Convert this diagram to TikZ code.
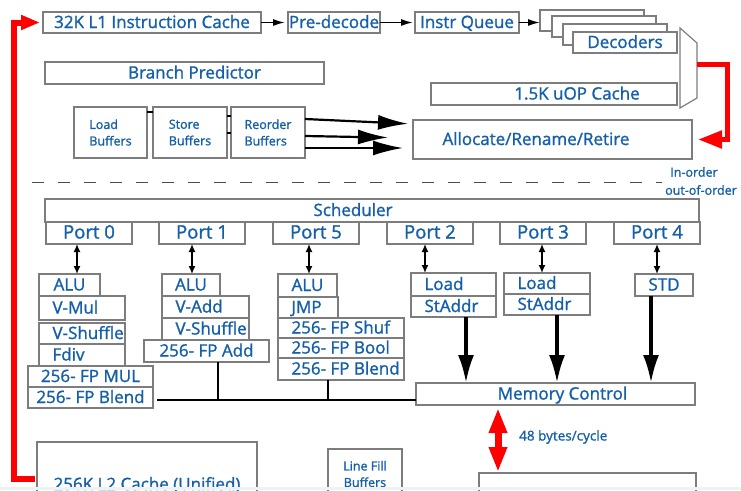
\documentclass[tikz,border=0pt]{standalone}
\usepackage{fontspec}
\newfontfamily\clearfont[FakeBold=1.2]{Open Sans}
\usetikzlibrary{arrows.meta}
\definecolor{intelblue}{RGB}{20,95,170}
\definecolor{boxgray}{RGB}{125,125,125}
\definecolor{stripgray}{RGB}{241,241,241}
\newcommand{\unitlabel}[2]{\makebox[#1pt][l]{\hspace{13.5pt}#2}}
\tikzset{
box/.style={draw=boxgray, line width=1.2pt, fill=white, text=intelblue, font=\clearfont\fontsize{17}{17}\selectfont, inner sep=0pt, outer sep=0pt, anchor=north west},
cell/.style={box, text height=12pt, text depth=1pt},
sz/.style 2 args={minimum width=#1pt, minimum height=#2pt},
small/.style={font=\clearfont\fontsize{12.5}{16.5}\selectfont},
portf/.style={font=\clearfont\fontsize{18.5}{18.5}\selectfont},
flow/.style={-{Latex[length=12pt,width=7pt]}, line width=1.5pt},
dbl/.style={{Latex[length=8pt,width=7pt]}-{Latex[length=8pt,width=7pt]}, line width=1.5pt},
down/.style={-{Latex[length=28pt,width=16pt]}, line width=3.5pt},
big/.style={-{Latex[length=30pt,width=15pt]}, line width=2.2pt},
bus/.style={line width=2.8pt},
redline/.style={draw=red, line width=6pt, line join=miter}
}
\begin{document}
\begin{tikzpicture}[x=1pt,y=-1pt]
\path[use as bounding box, clip] (0,0) rectangle (741,490);
\node[cell, sz={218}{21}] (l1) at (43,12) {32K L1 Instruction Cache};
\node[cell, sz={92}{21}] (predec) at (288,12) {Pre-decode};
\node[cell, sz={104}{21}] (iq) at (415,12) {Instr Queue};
\foreach \i/\x/\y in {1/540/10,2/552/16,3/563/24}
\node[box, sz={104}{21}] (dec\i) at (\x,\y) {};
\node[cell, sz={104}{21}] (dec4) at (573,32) {Decoders};
\node[cell, sz={279}{22}] (bp) at (45,62) {\hspace*{20pt}Branch Predictor};
\node[cell, sz={246}{22}] (uop) at (431,83) {\hspace*{46pt}1.5K uOP Cache};
\node[cell, sz={279}{39}] (alloc) at (413,120) {Allocate/Rename/Retire\hspace*{33pt}};
\draw[boxgray, line width=1.2pt] (680,28) -- (697,43) -- (697,98) -- (680,108) -- cycle;
\coordinate (muxout) at (697,64.5);
\node[box, small, align=left, sz={73}{51}] (lbuf) at (74,107) {Load\\Buffers};
\node[box, small, align=left, sz={74}{51}] (sbuf) at (153,107) {Store\\Buffers};
\node[box, small, align=left, sz={74}{51}] (rbuf) at (231,107) {Reorder\\Buffers};
\draw[flow, shorten >=3pt] (l1) -- (predec);
\draw[flow, shorten >=2pt] (predec) -- (iq);
\draw[flow] (iq.east) -- (iq.east -| dec1.west);
\draw[line width=1.5pt] (lbuf.east |- 0,112) -- (sbuf.west |- 0,112);
\draw[line width=1.5pt] (sbuf.east |- 0,116) -- (rbuf.west |- 0,116);
\draw[line width=1.5pt] (sbuf.east |- 0,133) -- (rbuf.west |- 0,133);
\draw[big, shorten >=5pt] (rbuf.east |- 0,119) -- (alloc.west |- 0,124);
\draw[big, shorten >=25pt] (rbuf.east |- 0,136) -- (alloc.west |- 0,138);
\draw[big, shorten >=10pt] (rbuf.east |- 0,148) -- (alloc.west |- 0,148);
\draw[redline, line width=5pt, -{Triangle[length=24pt,width=17pt]}, shorten >=6pt] (muxout) -- (muxout -| 727,0) |- (alloc.east);
\node[small, text=intelblue] (inord) at (694,172) {In-order};
\node[small, text=intelblue] (outord) at (701,190) {out-of-order};
\draw[boxgray!60!black, line width=1pt, dash pattern=on 12pt off 14pt] (32,182) -- (662,182);
\node[cell, sz={654}{23}] (sched) at (45,199) {Scheduler\hspace*{38pt}};
\foreach \n/\x in {0/46,1/159,5/273,2/387,3/500,4/614}
\node[cell, portf, sz={86}{22}] (port\n) at (\x,222) {Port \n};
\node[cell, sz={61}{22}] (alu0) at (39,274) {ALU};
\node[cell, sz={86}{24}] (vmul) at (39,296) {\unitlabel{86}{V-Mul}};
\node[cell, sz={86}{21}] (vshuf0) at (39,323) {\unitlabel{86}{V-Shuffle}};
\node[cell, sz={86}{22}] (fdiv) at (39,344) {\unitlabel{86}{Fdiv}};
\node[cell, sz={125}{21}] (fpmul) at (28,366) {256- FP MUL};
\node[cell, sz={125}{21}] (fpblend0) at (28,387) {256- FP Blend};
\node[cell, sz={58}{22}] (alu1) at (162,274) {ALU};
\node[cell, sz={87}{22}] (vadd) at (162,296) {\unitlabel{87}{V-Add}};
\node[cell, sz={87}{22}] (vshuf1) at (162,318) {\unitlabel{87}{V-Shuffle}};
\node[cell, sz={125}{22}] (fpadd) at (144,340) {256- FP Add};
\node[cell, sz={59}{23}] (alu5) at (278,274) {ALU};
\node[cell, sz={60}{21}] (jmp) at (278,297) {\unitlabel{60}{JMP}};
\node[cell, sz={126}{20}] (fpshuf) at (278,318) {\unitlabel{126}{256- FP Shuf}};
\node[cell, sz={126}{20}] (fpbool) at (278,338) {\unitlabel{126}{256- FP Bool}};
\node[cell, sz={126}{22}] (fpblend5) at (278,358) {\unitlabel{126}{256- FP Blend}};
\node[cell, sz={85}{23}] (load2) at (411,273) {\unitlabel{85}{Load}};
\node[cell, sz={85}{21}] (staddr2) at (411,296) {\unitlabel{85}{StAddr}};
\node[cell, sz={86}{21}] (load3) at (504,273) {\unitlabel{86}{Load}};
\node[cell, sz={86}{21}] (staddr3) at (504,294) {\unitlabel{86}{StAddr}};
\node[cell, sz={58}{22}] (std) at (635,274) {STD};
\node[cell, sz={279}{22}] (memctl) at (416,383) {\hspace*{14pt}Memory Control};
\foreach \n/\x/\u in {0/77/alu0,1/192/alu1,5/309/alu5,2/425/load2,3/542/load3,4/657/std}
\draw[dbl] (port\n.south -| \x,0) -- (\u.north -| \x,0);
\foreach \u/\x in {staddr2/466,staddr3/557,std/651}
\draw[down] (\u.south -| \x,0) -- (memctl.north -| \x,0);
\coordinate (bus) at (0,400);
\draw[bus, shorten <=4pt] (fpblend0.east |- bus) -- (memctl.west |- bus);
\draw[bus] (fpadd.south -| 218,0) -- (bus -| 218,0);
\draw[bus] (fpblend5.south -| 328,0) -- (bus -| 328,0);
\node[cell, sz={220}{85}] (ltwo) at (37,442) {256K L2 Cache (Unified)};
\node[box, small, align=center, sz={74}{50}] (lfb) at (328,449) {Line Fill\\Buffers};
\node[box, sz={217}{60}] (dcu) at (479,473) {};
\draw[redline, line width=7pt, {Triangle[length=25pt,width=17pt]}-{Triangle[length=25pt,width=17pt]}, shorten <=3pt, shorten >=1pt] (memctl.south -| 498,0) -- (dcu.north -| 498,0);
\node[font=\clearfont\fontsize{13.5}{13.5}\selectfont, text=intelblue, anchor=west, inner sep=0pt] (bw) at (519,437) {48 bytes/cycle};
\draw[redline, -{Triangle[length=19pt,width=14pt]}, shorten <=2pt, shorten >=3pt] (ltwo.west |- 0,479) -| (l1.west -| 13.5,0) -- (l1.west);
\fill[stripgray] (0,487) rectangle (741,490);
\end{tikzpicture}
\end{document}
